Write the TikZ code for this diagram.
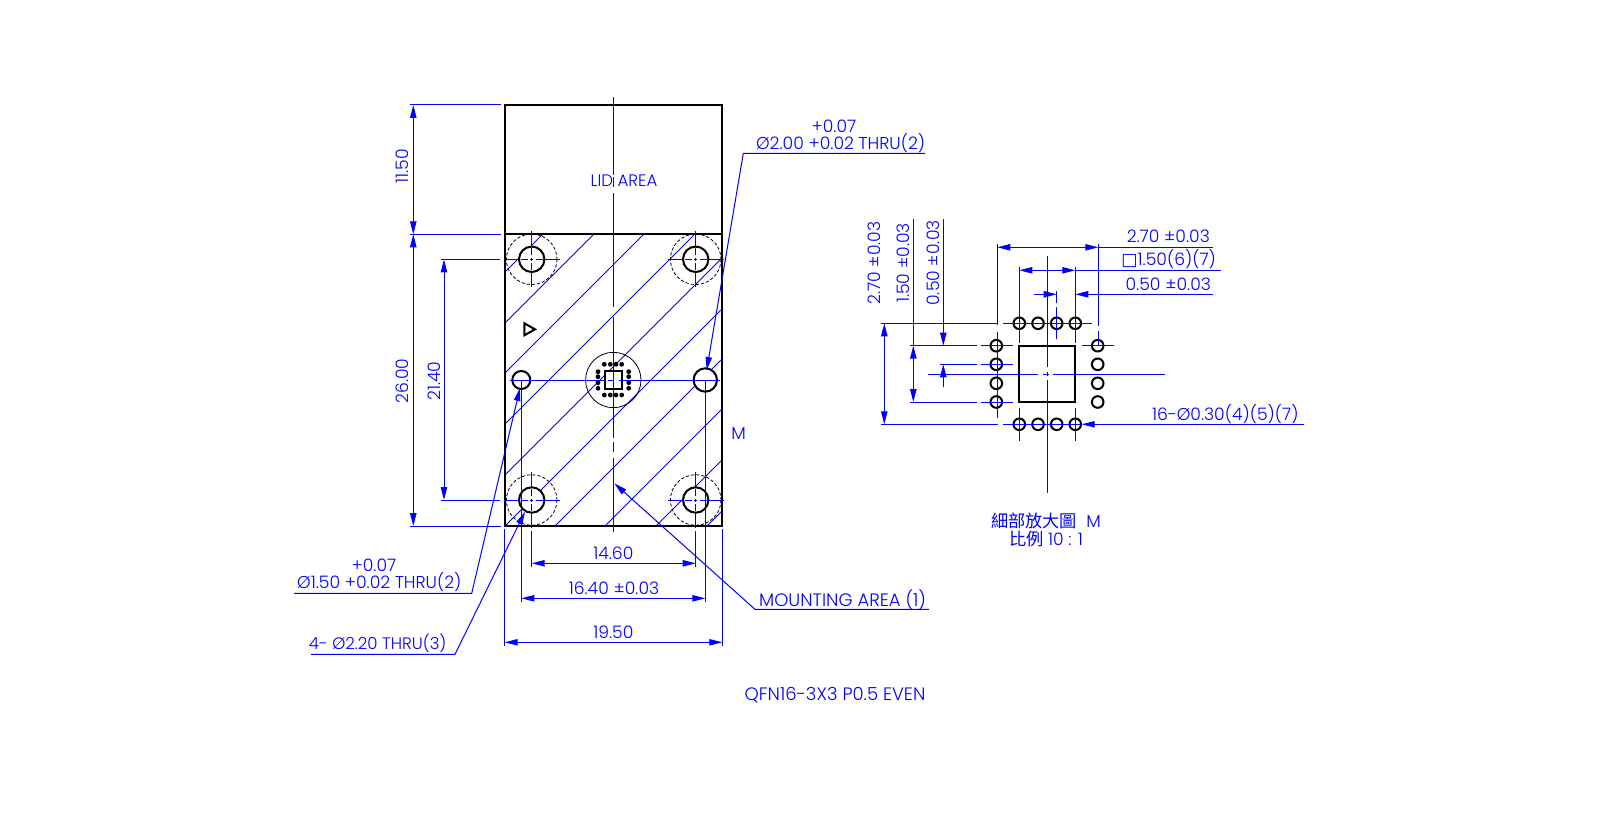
\documentclass[tikz,border=0pt]{standalone}
\usepackage{fontspec}
\setmainfont{Poppins Light}
\newfontfamily\cjkfont{Noto Sans CJK TC}
\newfontfamily\symfont{DejaVu Sans}
\usetikzlibrary{arrows.meta}

\begin{document}
\begin{tikzpicture}[
    x = 0.5pt, y = -0.5pt,
    blue/.style = {color={rgb,255:red,0;green,0;blue,255}},
    dimline/.style = {blue, line width=0.5pt, {Stealth[length=6.5pt,width=3.2pt,inset=0pt]}-{Stealth[length=6.5pt,width=3.2pt,inset=0pt]}},
    dimto/.style = {blue, line width=0.5pt, -{Stealth[length=6.5pt,width=3.2pt,inset=0pt]}},
    thin line/.style = {blue, line width=0.5pt},
    hatch/.style = {blue, line width=0.4pt},
    outline/.style = {draw=black, line width=1pt},
    hidden/.style = {draw=black, line width=0.4pt, dash pattern=on 1.6pt off 1pt},
    label/.style = {blue, font=\fontsize{8.6}{10}\selectfont, inner sep=0pt},
    longlabel/.style = {label, font=\fontsize{8.3}{10}\selectfont},
    widelabel/.style = {label, font=\fontsize{9}{10}\selectfont}
]
\path[use as bounding box] (0,0) rectangle (1621,824);

% Define hole centres
\coordinate (holeA) at (531.7,259.3);
\coordinate (holeB) at (695.7,259.3);
\coordinate (holeC) at (531.7,500);
\coordinate (holeD) at (695.7,500);
\coordinate (pinL) at (521.3,380);
\coordinate (pinR) at (705.3,380);
\coordinate (chip) at (613.3,380);

% Hatching of the mounting area
\begin{scope}
\clip (504.5,233.7) rectangle (722,525.7);
\foreach \c in {777,828,878,929,980,1031,1081,1131,1182,1233}
    \draw[hatch] (\c-233.7,233.7) -- (\c-525.7,525.7);
\end{scope}

% Body of the part
\draw[outline] (504.5,104.7) rectangle (722,525.7);
\draw[outline] (504.5,233.7) -- (722,233.7);
\draw[outline, line join=miter] (524.3,323.3) -- (535,329.3) -- (524.3,335.3) -- cycle;

% Holes
\foreach \h in {holeA,holeB,holeC,holeD} {
    \draw[hidden] (\h) circle (25.3);
    \draw[outline, fill=white] (\h) circle (12.7);
    \foreach \dx/\dy in {1/0,-1/0,0/1,0/-1} {
        \draw[hatch] (\h) ++(\dx*4,\dy*4) -- ++(\dx*7,\dy*7);
        \draw[hatch] (\h) ++(\dx*13,\dy*13) -- ++(\dx*15,\dy*15);
    }
    \draw[hatch] (\h) ++(-1.5,0) -- ++(3,0);
    \draw[hatch] (\h) ++(0,-1.5) -- ++(0,3);
}
\draw[outline, fill=white] (pinL) circle (9);
\draw[outline, fill=white] (pinR) circle (11.7);

% Chip and its pads
\draw[black, line width=0.4pt] (chip) circle (27.7);
\draw[outline, fill=white] (604.7,370.7) rectangle (621.7,389);
\foreach \px in {604.3,610.3,616,621.7} {
    \fill[black] (\px,364.3) circle (2.4);
    \fill[black] (\px,395) circle (2.4);
}
\foreach \py in {371.7,376.7,382.7,388.3} {
    \fill[black] (598,\py) circle (2.4);
    \fill[black] (628.7,\py) circle (2.4);
}

% Centre lines
\draw[thin line] (613.3,97) -- (613.3,175) (613.3,177) -- (613.3,187) (613.3,193) -- (613.3,307)
    (613.3,317) -- (613.3,438) (613.3,442) -- (613.3,452) (613.3,458) -- (613.3,532);
\draw[thin line] (510,380) -- (604,380) (608,380) -- (614,380) (619,380) -- (720,380);

% Dimensions of the part
\draw[thin line] (410,105) -- (500.7,105);
\draw[thin line] (410,234.3) -- (500.7,234.3);
\draw[thin line] (410,526) -- (500.7,526);
\draw[thin line] (441.3,259.3) -- (500,259.3);
\draw[thin line] (441.3,500) -- (500,500);
\draw[dimline] (413.3,105) -- (413.3,234.3);
\draw[dimline] (413.3,234.3) -- (413.3,526);
\draw[dimline] (444,259.3) -- (444,500);
\draw[thin line] (531.7,530.7) -- (531.7,566.7);
\draw[thin line] (695.7,530.7) -- (695.7,566.7);
\draw[thin line] (pinL) -- (521.3,601.7);
\draw[thin line] (pinR) -- (705.3,601.7);
\draw[thin line] (504.7,529) -- (504.7,645.7);
\draw[thin line] (722.3,529) -- (722.3,645.7);
\draw[dimline] (531.7,563.3) -- (695.7,563.3);
\draw[dimline] (521.3,598.3) -- (705.3,598.3);
\draw[dimline] (504.7,642.3) -- (722.3,642.3);

% Leaders
\draw[dimto] (925,153.3) -- (743.3,153.3) -- (706.7,370);
\draw[dimto] (294,593.3) -- (471.7,593.3) -- (520,388);
\draw[dimto] (311,654.3) -- (455,654.3) -- (525,511.7);
\draw[dimto] (929,609.3) -- (755,609.3) -- (614.3,483.3);

% Detail view M
\draw[outline] (1018.7,345.7) rectangle (1075.3,402);
\foreach \px in {1019.3,1038,1056.7,1075.3} {
    \draw[outline] (\px,323.3) circle (5.8);
    \draw[outline] (\px,424.3) circle (5.8);
}
\foreach \py in {345.7,364.3,383.3,402} {
    \draw[outline] (996.3,\py) circle (5.8);
    \draw[outline] (1097.7,\py) circle (5.8);
}
\draw[thin line] (1047.3,256) -- (1047.3,367) (1047.3,372) -- (1047.3,376) (1047.3,380) -- (1047.3,492.7);
\draw[thin line] (928.3,374) -- (1038.3,374) (1043,374) -- (1049,374) (1053,374) -- (1165,374);
\draw[thin line] (997.3,244) -- (997.3,325) (997.3,331.7) -- (997.3,418.3);
\draw[thin line] (1098.3,244) -- (1098.3,326) (1098.3,330.7) -- (1098.3,345);
\draw[thin line] (1019.3,267.3) -- (1019.3,343) (1019.3,408) -- (1019.3,440.7);
\draw[thin line] (1075.3,267.3) -- (1075.3,343) (1075.3,408) -- (1075.3,440.7);
\draw[thin line] (1056.7,290.7) -- (1056.7,303.3) (1056.7,307.3) -- (1056.7,339.3);
\draw[thin line] (881,323.3) -- (998,323.3) (1003.3,323.3) -- (1091.7,323.3);
\draw[thin line] (881,424.3) -- (998,424.3) (1003.3,424.3) -- (1080,424.3);
\draw[thin line] (910,345.7) -- (976.7,345.7) (981,345.7) -- (1012.7,345.7) (1081.7,345.7) -- (1114,345.7);
\draw[thin line] (940,364.3) -- (976.7,364.3) (981,364.3) -- (1012.7,364.3);
\draw[thin line] (910,402) -- (976.7,402) (981,402) -- (1012.7,402);
\draw[dimline] (997.3,247.3) -- (1098.3,247.3);
\draw[thin line] (1098.3,247.3) -- (1212.7,247.3);
\draw[dimline] (1019.3,270.3) -- (1075.3,270.3);
\draw[thin line] (1075.3,270.3) -- (1221,270.3);
\draw[dimto] (1034,294.3) -- (1056.7,294.3);
\draw[dimto] (1212.7,294.3) -- (1075.3,294.3);
\draw[dimline] (884.3,323.3) -- (884.3,424.3);
\draw[dimline] (913.3,345.7) -- (913.3,402);
\draw[thin line] (913.3,219.3) -- (913.3,345.7);
\draw[dimto] (943.3,219) -- (943.3,345.7);
\draw[dimto] (943.3,387.3) -- (943.3,364.3);
\draw[dimto] (1304,424.3) -- (1081.7,424.3);

% Labels
\node[label, rotate=90] (dimlid) at (402.7,166) {11.50};
\node[label, rotate=90] (dimbody) at (402.7,381) {26.00};
\node[label, rotate=90] (dimholes) at (434,381) {21.40};
\node[longlabel] (lidarea) at (624,181) {LID AREA};
\node[label] (toltop) at (834,126) {+0.07};
\node[label] (pintop) at (840.6,143.4) {Ø2.00 +0.02 THRU(2)};
\node[label] (detailmark) at (738.7,433.3) {M};
\node[label] (tolleft) at (374,565.7) {+0.07};
\node[label] (pinleft) at (379.3,582.3) {Ø1.50 +0.02 THRU(2)};
\node[longlabel] (holeslabel) at (377.7,643.3) {4- Ø2.20 THRU(3)};
\node[label] (dimmount) at (613.3,553) {14.60};
\node[label] (dimpins) at (614,588) {16.40 ±0.03};
\node[label] (dimwidth) at (613.3,632.3) {19.50};
\node[widelabel] (mountarea) at (842.5,599.3) {MOUNTING AREA (1)};
\node[widelabel] (package) at (835,695) {QFN16-3X3 P0.5 EVEN};
\node[label, rotate=90] (dimoutv) at (874,263) {2.70 ±0.03};
\node[label, rotate=90] (dimpadv) at (903.3,263) {1.50 ±0.03};
\node[label, rotate=90] (dimpitchv) at (933.3,263) {0.50 ±0.03};
\node[label] (dimouth) at (1168.3,236.7) {2.70 ±0.03};
\node[label] (dimpadh) at (1168.7,259) {{\symfont □}1.50(6)(7)};
\node[label] (dimpitchh) at (1168.3,284) {0.50 ±0.03};
\node[label] (padcount) at (1225.3,414) {16-Ø0.30(4)(5)(7)};
\node[label] (detailname) at (1046,521) {{\cjkfont 細部放大圖}\ \ M};
\node[label] (detailscale) at (1046,539) {{\cjkfont 比例} 10 : 1};

\end{tikzpicture}
\end{document}
